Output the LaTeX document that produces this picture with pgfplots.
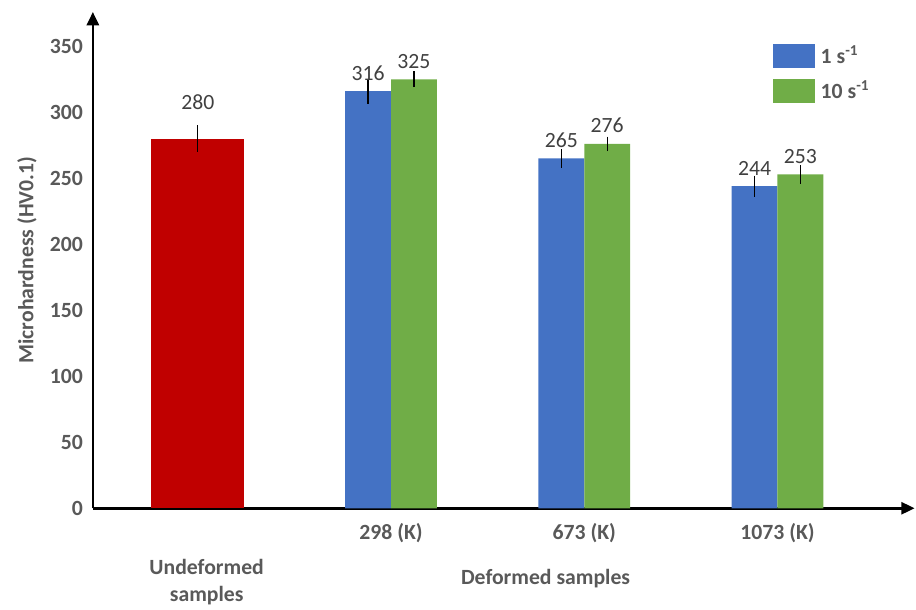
\documentclass[border=0pt]{standalone}
\usepackage{fontspec}
\setmainfont{Carlito}
\usepackage{pgfplots}
\pgfplotsset{compat=1.18}
\usetikzlibrary{arrows.meta}
\definecolor{barred}{HTML}{C00000}
\definecolor{barblue}{HTML}{4472C4}
\definecolor{bargreen}{HTML}{70AD47}
\definecolor{labgray}{HTML}{595959}
\definecolor{valgray}{HTML}{404040}
\newcommand{\fs}{\fontsize{16.3}{20}\selectfont}

\begin{document}
\begin{tikzpicture}[font=\fs]
\begin{axis}[
  scale only axis,
  width=617.25pt, height=372.75pt,
  xmin=-0.543, xmax=3.71,
  ymin=0, ymax=376,
  clip=false,
  axis lines=left,
  axis line style={line width=2pt, -{Triangle[length=10pt,width=9pt]}},
  ytick={0,50,...,350},
  xtick={1,2,3},
  xticklabels={298 (K), 673 (K), 1073 (K)},
  major tick length=0pt,
  tick style={draw=none},
  ticklabel style={font=\fs\bfseries, text=labgray},
  xticklabel style={yshift=-8pt},
  yticklabel style={xshift=-4pt},
  /pgf/number format/assume math mode=true,
  ylabel={Microhardness (HV0.1)},
  ylabel shift=3pt,
  ylabel style={font=\fs\bfseries, text=labgray},
  ybar,
  error bars/y dir=both,
  error bars/y explicit,
  error bars/error mark=none,
  error bars/error bar style={line width=0.9pt, black},
  nodes near coords,
  every node near coord/.append style={font=\fs, text=valgray, inner sep=0pt, yshift=8pt},
  legend style={at={(rel axis cs:0.827,0.938)}, anchor=north west,
    draw=none, fill=none, inner sep=0pt, row sep=7pt, column sep=2pt,
    nodes={text=labgray, font=\fs\bfseries}},
  legend cell align=left,
  legend image code/.code={\fill[#1] (0pt,-9pt) rectangle (32pt,9pt);},
]
\coordinate (O) at (rel axis cs:0,0);

% undeformed
\addplot[fill=barred, draw=none, bar width=69.75pt, bar shift=0pt, forget plot,
  every node near coord/.append style={yshift=13.5pt}]
  coordinates {(0,280) +- (0,10)};

% 1 s^-1
\addplot[fill=barblue, draw=none, bar width=34.5pt, bar shift=-17.25pt]
  coordinates {(1,316) +- (0,9.5) (2,265) +- (0,7) (3,244) +- (0,8)};
\addlegendentry{1 s\textsuperscript{-1}}

% 10 s^-1
\addplot[fill=bargreen, draw=none, bar width=34.5pt, bar shift=17.25pt]
  coordinates {(1,325) +- (0,6) (2,276) +- (0,5.5) (3,253) +- (0,7)};
\addlegendentry{10 s\textsuperscript{-1}}

\node[font=\fs\bfseries, text=labgray, align=center] at (axis cs:0.046,0)
  [yshift=-55.5pt] {Undeformed\\samples};
\node[font=\fs\bfseries, text=labgray] at (axis cs:1.80,0)
  [yshift=-53pt] {Deformed samples};
\end{axis}
\path ([shift={(-69.75pt,-74.25pt)}]O) rectangle ++(687pt,456pt);
\end{tikzpicture}
\end{document}
